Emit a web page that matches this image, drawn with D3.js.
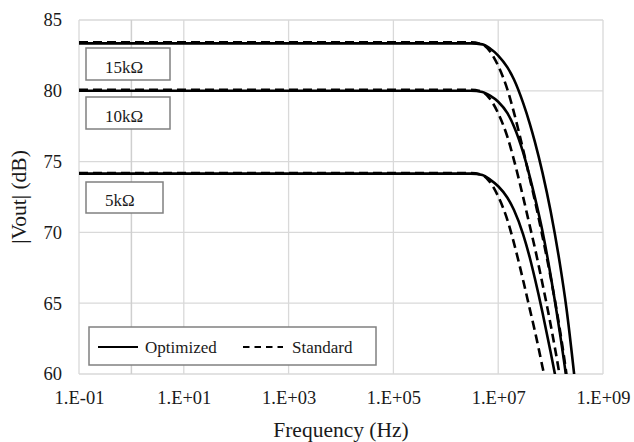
<!DOCTYPE html>
<html>
<head>
<meta charset="utf-8">
<script src="https://cdn.jsdelivr.net/npm/d3@7"></script>
<style>
body { margin: 0; background: #fff; }
svg text { font-family: "Liberation Serif", "DejaVu Serif", "Noto Serif", "Times New Roman", Times, serif !important; fill: #1a1a1a; }
</style>
</head>
<body>
<svg id="chart" width="634" height="442"></svg>
<script>
var width = 634,
    height = 442;

const margin = { left: 79, right: 31, top: 20, bottom: 68 };
const serif = "'Liberation Serif', 'DejaVu Serif', 'Noto Serif', 'Times New Roman', Times, serif";

// Frequency points (Hz), shared by every series
const freq = [0.1, 1, 10, 100, 1e3, 1e4, 1e5, 1e6, 3e6, 5e6, 7e6, 1e7, 1.5e7, 2e7, 3e7, 4e7, 5e7, 7e7, 1e8, 1.5e8, 2e8, 3e8];

// |Vout| (dB)
const opt_5k  = [74.15, 74.15, 74.15, 74.15, 74.15, 74.15, 74.15, 74.15, 74.15, 74.05, 73.73, 73.26, 72.45, 71.58, 69.85, 68.23, 66.76, 64.35, 61.56, 58.13, 55.38, 50.63];
const opt_10k = [80.0, 80.0, 80.0, 80.0, 80.0, 80.0, 80.0, 80.0, 80.0, 79.92, 79.66, 79.23, 78.42, 77.48, 75.63, 73.94, 72.49, 70.08, 66.98, 62.93, 59.68, 53.87];
const opt_15k = [83.35, 83.35, 83.35, 83.35, 83.35, 83.35, 83.35, 83.35, 83.35, 83.28, 82.99, 82.49, 81.65, 80.8, 79.13, 77.69, 76.41, 74.22, 71.51, 67.81, 64.68, 59.05];
const std_5k  = [74.2, 74.2, 74.2, 74.2, 74.2, 74.2, 74.2, 74.2, 74.2, 74.05, 73.55, 72.54, 70.87, 69.24, 66.6, 64.6, 63.05, 60.5, 57.63, 53.93, 50.8, 45.2];
const std_10k = [80.07, 80.07, 80.07, 80.07, 80.07, 80.07, 80.07, 80.07, 80.07, 79.92, 79.42, 78.41, 76.74, 75.11, 72.47, 70.47, 68.92, 66.37, 63.5, 59.8, 56.67, 51.07];
const std_15k = [83.42, 83.42, 83.42, 83.42, 83.42, 83.42, 83.42, 83.42, 83.42, 83.27, 82.77, 81.76, 80.09, 78.46, 75.82, 73.82, 72.27, 69.72, 66.85, 63.15, 60.02, 54.42];

const resistor_labels = ["15kΩ", "10kΩ", "5kΩ"];
const legend_labels = ["Optimized", "Standard"];

const x_ticks = [1e-1, 1e1, 1e3, 1e5, 1e7, 1e9];
const x_tick_labels = ["1.E-01", "1.E+01", "1.E+03", "1.E+05", "1.E+07", "1.E+09"];
const y_ticks = [60, 65, 70, 75, 80, 85];

const series = [
    { name: "opt_5k", values: opt_5k, type: "opt" },
    { name: "opt_10k", values: opt_10k, type: "opt" },
    { name: "opt_15k", values: opt_15k, type: "opt" },
    { name: "std_5k", values: std_5k, type: "std" },
    { name: "std_10k", values: std_10k, type: "std" },
    { name: "std_15k", values: std_15k, type: "std" }
];

var svg = d3.select("#chart");

var x = d3.scaleLog()
    .domain([0.1, 1e9])
    .range([margin.left, width - margin.right]);

var y = d3.scaleLinear()
    .domain([60, 85])
    .range([height - margin.bottom, margin.top]);

svg.append("defs").append("clipPath")
    .attr("id", "plot-clip")
    .append("rect")
    .attr("x", margin.left)
    .attr("y", margin.top - 2)
    .attr("width", width - margin.left - margin.right)
    .attr("height", height - margin.top - margin.bottom + 2);

// Gridlines
var grid = svg.append("g").attr("class", "grid");
grid.selectAll("line.h")
    .data(y_ticks)
    .join("line")
    .attr("class", "h")
    .attr("x1", x(0.1))
    .attr("x2", x(1e9))
    .attr("y1", function (d) { return y(d); })
    .attr("y2", function (d) { return y(d); })
    .attr("stroke", "#d9d9d9")
    .attr("stroke-width", 1.3);

grid.selectAll("line.v")
    .data(x_ticks)
    .join("line")
    .attr("class", "v")
    .attr("x1", function (d) { return x(d); })
    .attr("x2", function (d) { return x(d); })
    .attr("y1", y(85))
    .attr("y2", y(60))
    .attr("stroke", "#d9d9d9")
    .attr("stroke-width", 1.3);

// vertical axis crosses at 1 Hz (Excel default)
grid.append("line")
    .attr("x1", x(1))
    .attr("x2", x(1))
    .attr("y1", y(85))
    .attr("y2", y(60))
    .attr("stroke", "#cfcfcf")
    .attr("stroke-width", 1.5);

// Tick labels
var xAxis = d3.axisBottom(x)
    .tickValues(x_ticks)
    .tickSize(0)
    .tickPadding(17)
    .tickFormat(function (d, i) { return x_tick_labels[i]; });

svg.append("g")
    .attr("transform", "translate(0," + y(60) + ")")
    .call(xAxis)
    .attr("font-family", serif)
    .attr("font-size", 18.5)
    .call(function (g) { g.select(".domain").remove(); })
    .selectAll("text")
    .attr("fill", "#1a1a1a");

var yAxis = d3.axisLeft(y)
    .tickValues(y_ticks)
    .tickSize(0)
    .tickPadding(17);

svg.append("g")
    .attr("transform", "translate(" + margin.left + ",0)")
    .call(yAxis)
    .attr("font-family", serif)
    .attr("font-size", 18.5)
    .call(function (g) { g.select(".domain").remove(); })
    .selectAll("text")
    .attr("fill", "#1a1a1a");

// Axis titles
svg.append("text")
    .attr("x", (x(0.1) + x(1e9)) / 2)
    .attr("y", 437)
    .attr("text-anchor", "middle")
    .attr("font-size", 21.5)
    .text("Frequency (Hz)");

svg.append("text")
    .attr("transform", "translate(26," + (y(60) + y(85)) / 2 + ") rotate(-90)")
    .attr("text-anchor", "middle")
    .attr("font-size", 21.5)
    .text("|Vout| (dB)");

// Curves
var line = d3.line()
    .x(function (d) { return x(d[0]); })
    .y(function (d) { return y(d[1]); })
    .curve(d3.curveMonotoneX);

svg.append("g")
    .attr("clip-path", "url(#plot-clip)")
    .selectAll("path")
    .data(series)
    .join("path")
    .attr("d", function (s) {
        return line(freq.map(function (f, i) { return [f, s.values[i]]; }));
    })
    .attr("fill", "none")
    .attr("stroke", "#000")
    .attr("stroke-width", 2.6)
    .attr("stroke-dasharray", function (s) { return s.type == "std" ? "9,5" : null; });

// Resistor label boxes
const label_boxes = [
    { x: 86, y: 48, w: 84, h: 32 },
    { x: 86, y: 97, w: 84, h: 32 },
    { x: 86, y: 182, w: 77, h: 31 }
];

var labels = svg.append("g")
    .selectAll("g")
    .data(resistor_labels)
    .join("g");

labels.append("rect")
    .attr("x", function (d, i) { return label_boxes[i].x; })
    .attr("y", function (d, i) { return label_boxes[i].y; })
    .attr("width", function (d, i) { return label_boxes[i].w; })
    .attr("height", function (d, i) { return label_boxes[i].h; })
    .attr("fill", "#fff")
    .attr("stroke", "#808080")
    .attr("stroke-width", 1.5);

labels.append("text")
    .attr("x", 105)
    .attr("y", function (d, i) { return label_boxes[i].y + label_boxes[i].h - 7.5; })
    .attr("font-size", 17)
    .text(function (d) { return d; });

// Legend
var legend = svg.append("g");
legend.append("rect")
    .attr("x", 89)
    .attr("y", 327)
    .attr("width", 287)
    .attr("height", 38)
    .attr("fill", "#fff")
    .attr("stroke", "#808080")
    .attr("stroke-width", 1.5);

legend.append("line")
    .attr("x1", 98).attr("x2", 138)
    .attr("y1", 347).attr("y2", 347)
    .attr("stroke", "#000")
    .attr("stroke-width", 2);

legend.append("line")
    .attr("x1", 243).attr("x2", 283)
    .attr("y1", 347).attr("y2", 347)
    .attr("stroke", "#000")
    .attr("stroke-width", 2)
    .attr("stroke-dasharray", "6.5,5");

legend.selectAll("text")
    .data(legend_labels)
    .join("text")
    .attr("x", function (d, i) { return i == 0 ? 145 : 292; })
    .attr("y", 352.5)
    .attr("font-size", 17)
    .text(function (d) { return d; });
</script>
</body>
</html>
